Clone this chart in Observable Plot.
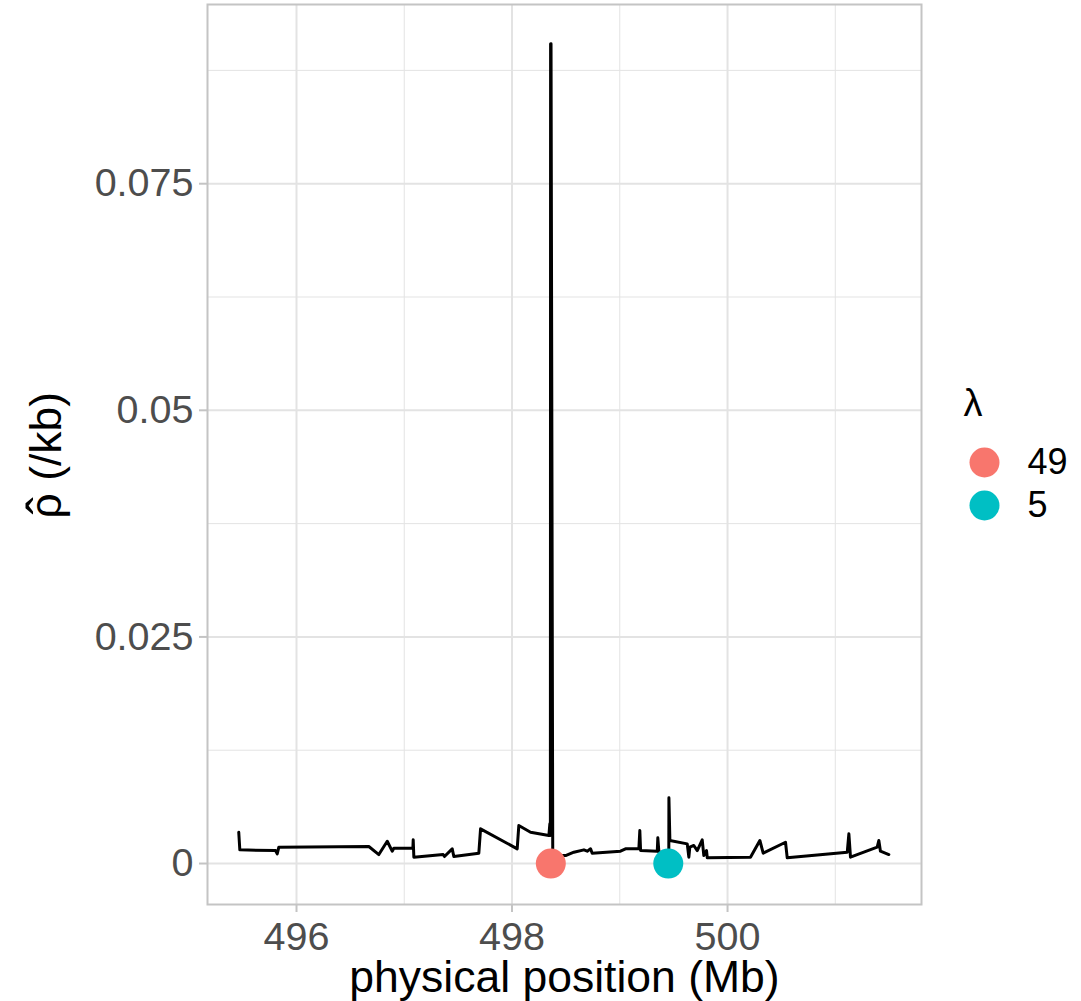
<!DOCTYPE html>
<html>
<head>
<meta charset="utf-8">
<script src="https://cdn.jsdelivr.net/npm/d3@7"></script>
<script src="https://cdn.jsdelivr.net/npm/@observablehq/plot@0.6"></script>
<style>
  html, body { margin: 0; padding: 0; background: #fff; }
  #wrap { position: relative; width: 1081px; height: 1001px; }
  #legend { position: absolute; left: 951px; top: 380px; }
</style>
</head>
<body>
<div id="wrap"><div id="chart"></div><div id="legend"></div></div>
<script>
// Recombination rate estimate along physical position (Mb)
const positionMb = [495.464, 495.474, 495.805, 495.821, 495.836, 496.671, 496.764, 496.842, 496.888, 496.903,
  497.080, 497.083, 497.089, 497.361, 497.373, 497.445, 497.460, 497.692, 497.708, 498.048,
  498.063, 498.172, 498.342, 498.351, 498.356, 498.358, 498.362, 498.378, 498.497, 498.574,
  498.667, 498.698, 498.729, 498.744, 499.007, 499.053, 499.177, 499.186, 499.193, 499.348,
  499.353, 499.363, 499.455, 499.456, 499.465, 499.626, 499.641, 499.650, 499.687, 499.719,
  499.765, 499.780, 499.805, 499.812, 500.213, 500.300, 500.331, 500.538, 500.554, 501.111,
  501.126, 501.141, 501.389, 501.404, 501.419, 501.497];
const rhoPerKb = [0.00345, 0.00151, 0.00143, 0.00107, 0.00180, 0.00188, 0.00099, 0.00246, 0.00136, 0.00169,
  0.00169, 0.00261, 0.00070, 0.00099, 0.00077, 0.00162, 0.00077, 0.00114, 0.00383, 0.00162,
  0.00419, 0.00345, 0.00309, 0.00438, 0.00310, 0.09043, 0.09043, 0.00088, 0.00088, 0.00125,
  0.00151, 0.00136, 0.00162, 0.00114, 0.00136, 0.00162, 0.00162, 0.00364, 0.00143, 0.00136,
  0.00284, 0.00125, 0.00125, 0.00725, 0.00254, 0.00217, 0.00070, 0.00180, 0.00199, 0.00143,
  0.00261, 0.00088, 0.00143, 0.00063, 0.00070, 0.00254, 0.00114, 0.00235, 0.00063, 0.00125,
  0.00328, 0.00070, 0.00180, 0.00254, 0.00136, 0.00099];

// Hotspot points (lambda)
const lambdaLabels = ["49", "5"];
const lambdaPositions = [498.36, 499.45];
const lambdaRho = [0, 0];
const lambdaColors = ["#F8766D", "#00BFC4"];

// Ticks
const xTicks = [496, 498, 500];
const xTickLabels = ["496", "498", "500"];
const xMinor = [497, 499, 501];
const yTicks = [0, 0.025, 0.05, 0.075];
const yTickLabels = ["0", "0.025", "0.05", "0.075"];
const yMinor = [0.0125, 0.0375, 0.0625, 0.0875];

const xTitle = "physical position (Mb)";
const yTitle = "\u03C1 (/kb)";
const yTitleHat = "\u02C6";
const legendTitle = "\u03BB";

const lineData = positionMb.map((x, i) => ({x, y: rhoPerKb[i]}));
const pointData = lambdaLabels.map((l, i) => ({x: lambdaPositions[i], y: lambdaRho[i], lambda: l}));

const font = "'Liberation Sans', Arial, sans-serif";
const gridCol = "#E3E3E3";
const borderCol = "#C4C4C4";

const chart = Plot.plot({
  width: 1081,
  height: 1001,
  marginLeft: 207,
  marginRight: 160,
  marginTop: 4,
  marginBottom: 97,
  style: {fontFamily: font, background: "#fff"},
  x: {domain: [495.174, 501.80], label: null},
  y: {domain: [-0.00452, 0.09477], label: null},
  color: {domain: lambdaLabels, range: lambdaColors},
  marks: [
    Plot.gridX(xMinor, {stroke: gridCol, strokeOpacity: 1, strokeWidth: 1}),
    Plot.gridY(yMinor, {stroke: gridCol, strokeOpacity: 1, strokeWidth: 1}),
    Plot.gridX(xTicks, {stroke: gridCol, strokeOpacity: 1, strokeWidth: 2}),
    Plot.gridY(yTicks, {stroke: gridCol, strokeOpacity: 1, strokeWidth: 2}),
    Plot.frame({stroke: borderCol, strokeWidth: 2}),
    Plot.axisX(xTicks, {tickFormat: (d) => xTickLabels[xTicks.indexOf(d)], tickSize: 8, tickPadding: 9,
      fontSize: 39.5, fill: "#4D4D4D", stroke: borderCol, strokeWidth: 2, label: null}),
    Plot.axisY(yTicks, {tickFormat: (d) => yTickLabels[yTicks.indexOf(d)], tickSize: 8, tickPadding: 6,
      fontSize: 39.5, fill: "#4D4D4D", stroke: borderCol, strokeWidth: 2, label: null}),
    Plot.line(lineData, {x: "x", y: "y", stroke: "black", strokeWidth: 3, strokeLinejoin: "round", strokeLinecap: "round"}),
    Plot.dot(pointData, {x: "x", y: "y", fill: "lambda", r: 15, stroke: null}),
    Plot.text([xTitle], {frameAnchor: "bottom", dy: 87, lineAnchor: "bottom", textAnchor: "middle",
      fontSize: 44.5, fill: "black"}),
    Plot.text([yTitle], {frameAnchor: "left", dx: -147, dy: 64, rotate: -90, lineAnchor: "bottom", textAnchor: "start",
      fontSize: 44.5, fill: "black"}),
    Plot.text([yTitleHat], {frameAnchor: "left", dx: -144, dy: 51, rotate: -90, lineAnchor: "bottom", textAnchor: "middle",
      fontSize: 52, fill: "black"})
  ]
});
document.getElementById("chart").appendChild(chart);

const legend = Plot.plot({
  width: 130,
  height: 160,
  marginLeft: 33,
  marginRight: 0,
  marginTop: 0,
  marginBottom: 0,
  style: {fontFamily: font, background: "transparent", overflow: "visible"},
  x: {axis: null},
  y: {type: "point", domain: lambdaLabels, range: [82, 125], padding: 0, axis: null},
  color: {domain: lambdaLabels, range: lambdaColors},
  marks: [
    Plot.text([legendTitle], {frameAnchor: "top-left", dx: -21, dy: 35, lineAnchor: "bottom", textAnchor: "start",
      fontSize: 38, fill: "black"}),
    Plot.dot(lambdaLabels, {y: d => d, frameAnchor: "left", fill: d => d, r: 15, stroke: null}),
    Plot.text(lambdaLabels, {y: d => d, frameAnchor: "left", dx: 43, text: d => d, textAnchor: "start",
      lineAnchor: "middle", fontSize: 36, fill: "black"})
  ]
});
document.getElementById("legend").appendChild(legend);
</script>
</body>
</html>
